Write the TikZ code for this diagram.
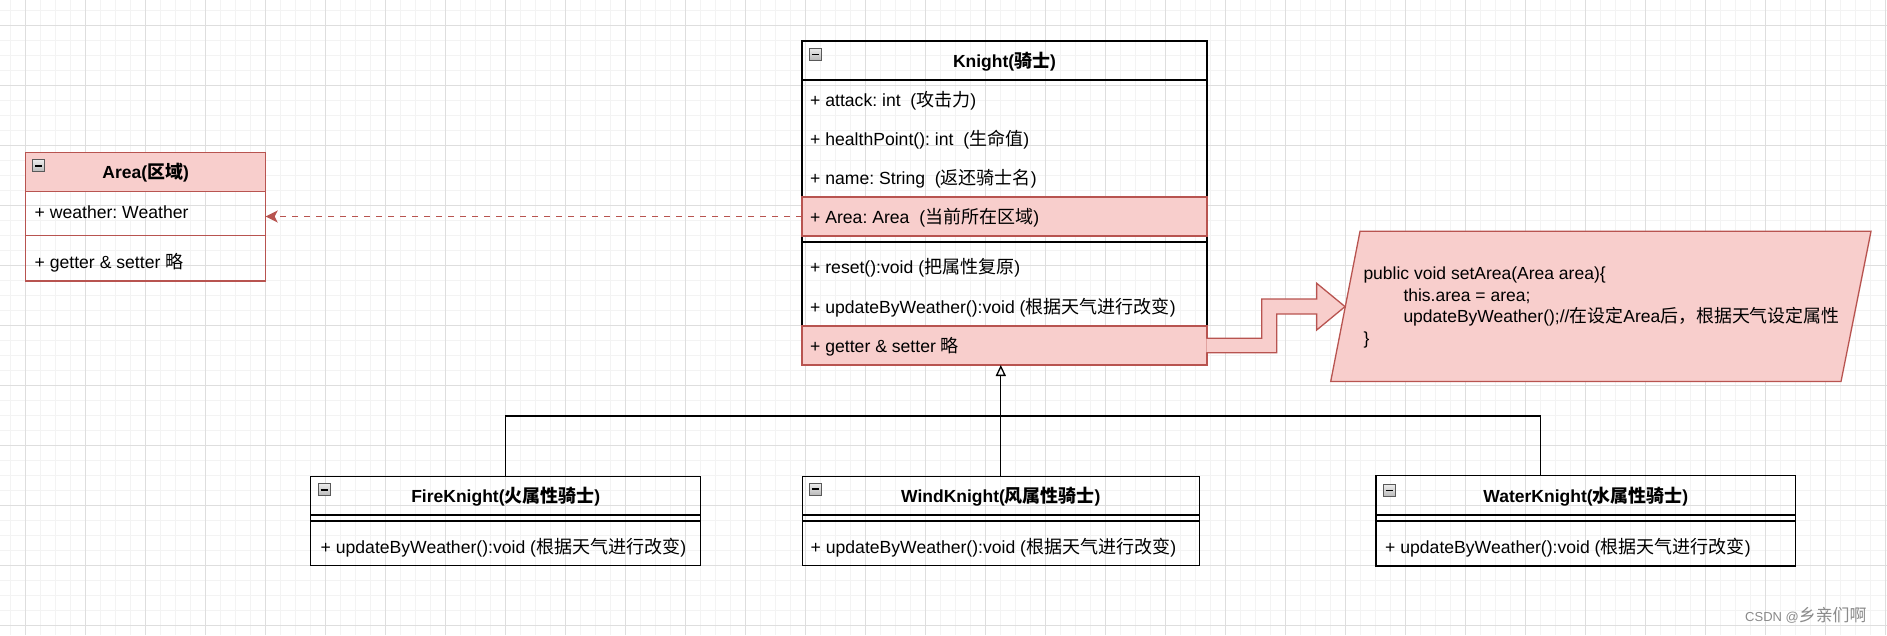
\documentclass[tikz,border=0pt]{standalone}
\usepackage{fontspec}
\setmainfont{Liberation Sans}
\newfontfamily\cjk[Scale=1.025]{Noto Sans CJK SC}
\usetikzlibrary{arrows.meta}
\definecolor{pinkfill}{HTML}{F8CECC}
\definecolor{redline}{HTML}{B85450}
\definecolor{gridmajor}{HTML}{DEDEDE}
\definecolor{gridminor}{HTML}{F3F3F3}
\definecolor{wmgray}{HTML}{8A8A8A}
\newcommand{\zh}[1]{{\cjk #1}}
\frenchspacing
\begin{document}
\begin{tikzpicture}[x=1pt,y=-1pt,
  classbox/.style={draw=black, line width=1.3pt, anchor=north west, inner sep=0pt, outer sep=0pt},
  redbox/.style={draw=redline, line width=1.3pt, anchor=north west, inner sep=0pt, outer sep=0pt},
  pinkrow/.style={draw=redline, fill=pinkfill, line width=1.3pt, anchor=north west, inner sep=0pt, outer sep=0pt},
  rowtext/.style={anchor=west, inner sep=0pt, font=\fontsize{17.6}{21}\selectfont},
  headtext/.style={anchor=center, inner sep=0pt, font=\bfseries\fontsize{17.5}{21}\selectfont},
  minusicon/.style={draw=gray!70!black, line width=0.8pt, top color=gray!15, bottom color=gray!55,
    minimum size=12pt, inner sep=0pt,
    path picture={\draw[black, line width=1.6pt] ([xshift=-3.5pt]path picture bounding box.center) -- ([xshift=3.5pt]path picture bounding box.center);}},
  sepline/.style={line width=1.3pt},
  inherit/.style={line width=1.3pt, -{Triangle[open, length=11pt, width=10pt]}},
  depend/.style={draw=redline, line width=1.3pt, dash pattern=on 6pt off 6pt, -{Stealth[length=12pt, width=12pt, inset=3pt]}},
  bigarrow/.style={draw=redline, fill=pinkfill, line width=1.3pt, line join=miter},
  codetext/.style={anchor=west, inner sep=0pt, align=left, font=\fontsize{17.5}{21.7}\selectfont}
]
\useasboundingbox (0,0) rectangle (1887,635);
\fill[white] (0,0) rectangle (1887,635);
% grid
\foreach \x in {10,25,...,1885} \draw[gridminor, line width=1pt] (\x,0) -- (\x,635);
\foreach \y in {10,25,...,630} \draw[gridminor, line width=1pt] (0,\y) -- (1887,\y);
\foreach \x in {25,85,...,1885} \draw[gridmajor, line width=1pt] (\x,0) -- (\x,635);
\foreach \y in {25,85,...,625} \draw[gridmajor, line width=1pt] (0,\y) -- (1887,\y);

% ---------- Knight ----------
\node[classbox, minimum width=405pt, minimum height=324pt] (knight) at (802,41) {};
\draw[sepline] ([yshift=-39pt]knight.north west) -- ([yshift=-39pt]knight.north east);
\node[pinkrow, minimum width=405pt, minimum height=39pt] (kArea) at (802,197) {};
\draw[sepline] (knight.west |- 0,242) -- (knight.east |- 0,242);
\node[pinkrow, minimum width=405pt, minimum height=39pt] (kGetter) at (802,326) {};
\node[minusicon] (kmin) at (815.3,54.3) {};
\node[headtext] (khead) at (1004.5,61.5) {Knight(\zh{骑士})};
\node[rowtext] (k1) at (810,100.5) {+ attack: int\ \ (\zh{攻击力})};
\node[rowtext] (k2) at (810,139.5) {+ healthPoint(): int\ \ (\zh{生命值})};
\node[rowtext] (k3) at (810,178.5) {+ name: String\ \ (\zh{返还骑士名})};
\node[rowtext] (k4) at (810,217.5) {+ Area: Area\ \ (\zh{当前所在区域})};
\node[rowtext] (k5) at (810,268) {+ reset():void (\zh{把属性复原})};
\node[rowtext] (k6) at (810,307.5) {+ updateByWeather():void (\zh{根据天气进行改变})};
\node[rowtext] (k7) at (810,346.5) {+ getter \& setter \zh{略}};

% ---------- Area ----------
\node[redbox, minimum width=240pt, minimum height=128.7pt] (area) at (25.7,152.3) {};
\node[pinkrow, minimum width=240pt, minimum height=39pt] (areahead) at (25.7,152.3) {};
\draw[sepline, draw=redline] (area.west |- 0,235.7) -- (area.east |- 0,235.7);
\node[minusicon] (amin) at (38.8,165.7) {};
\node[headtext] (ahead) at (145.7,173) {Area(\zh{区域})};
\node[rowtext] (a1) at (34.5,212) {+ weather: Weather};
\node[rowtext] (a2) at (34.5,262.5) {+ getter \& setter \zh{略}};

% ---------- subclasses ----------
\node[classbox, minimum width=390pt, minimum height=89.5pt] (fire) at (310.7,476.3) {};
\draw[sepline] (fire.west |- 0,515) -- (fire.east |- 0,515);
\draw[sepline] (fire.west |- 0,521) -- (fire.east |- 0,521);
\node[minusicon] (fmin) at (324,489.7) {};
\node[headtext] (fhead) at (505.7,496.5) {FireKnight(\zh{火属性骑士})};
\node[rowtext] (f1) at (320.5,548) {+ updateByWeather():void (\zh{根据天气进行改变})};

\node[classbox, minimum width=397pt, minimum height=89.5pt] (wind) at (802.3,476.3) {};
\draw[sepline] (wind.west |- 0,515) -- (wind.east |- 0,515);
\draw[sepline] (wind.west |- 0,521) -- (wind.east |- 0,521);
\node[minusicon] (wmin) at (815.3,489.2) {};
\node[headtext] (whead) at (1000.8,496.5) {WindKnight(\zh{风属性骑士})};
\node[rowtext] (w1) at (810.5,548) {+ updateByWeather():void (\zh{根据天气进行改变})};

\node[classbox, minimum width=419.7pt, minimum height=90.3pt] (water) at (1376,475.7) {};
\draw[sepline] (water.west |- 0,515) -- (water.east |- 0,515);
\draw[sepline] (water.west |- 0,521) -- (water.east |- 0,521);
\node[minusicon] (wamin) at (1389.2,490.5) {};
\node[headtext] (wahead) at (1585.8,496.5) {WaterKnight(\zh{水属性骑士})};
\node[rowtext] (wa1) at (1385,548) {+ updateByWeather():void (\zh{根据天气进行改变})};

% ---------- inheritance ----------
\coordinate (bus) at (0,416);
\coordinate (wj) at (1540.7,416);
\draw[inherit] (wind.north) -- (wind.north |- knight.south);
\draw[line width=1.3pt] (fire.north) -- (fire.north |- bus) -- (wj) -- (wj |- water.north);

% ---------- dependency ----------
\draw[depend] (kArea.west) -- (area.east |- kArea.west);

% ---------- note ----------
\coordinate (p1) at (1360,231.3);
\coordinate (p2) at (1871,231.3);
\coordinate (p3) at (1841,381.5);
\coordinate (p4) at (1330.7,381.5);
\draw[draw=redline, fill=pinkfill, line width=1.3pt] (p1) -- (p2) -- (p3) -- (p4) -- cycle;
\node[codetext] (code) at (1363.3,307.5) {public void setArea(Area area)\{\\
\hspace*{40pt}this.area = area;\\
\hspace*{40pt}updateByWeather();//\zh{在设定}Area\zh{后，根据天气设定属性}\\
\}};

% ---------- block arrow ----------
\draw[bigarrow] (1206.4,338.3) -- (1261.7,338.3) -- (1261.7,299) -- (1316.7,299) -- (1316.7,283.3)
  -- (1345,306.6) -- (1316.7,330) -- (1316.7,314) -- (1276.7,314) -- (1276.7,352.7) -- (1206.4,352.7);

% watermark
\node[anchor=west, inner sep=0pt, text=wmgray, font=\fontsize{13}{15}\selectfont] (wm) at (1745,615) {CSDN @\zh{\fontsize{16.5}{18}\selectfont 乡亲们啊}};
\end{tikzpicture}
\end{document}
